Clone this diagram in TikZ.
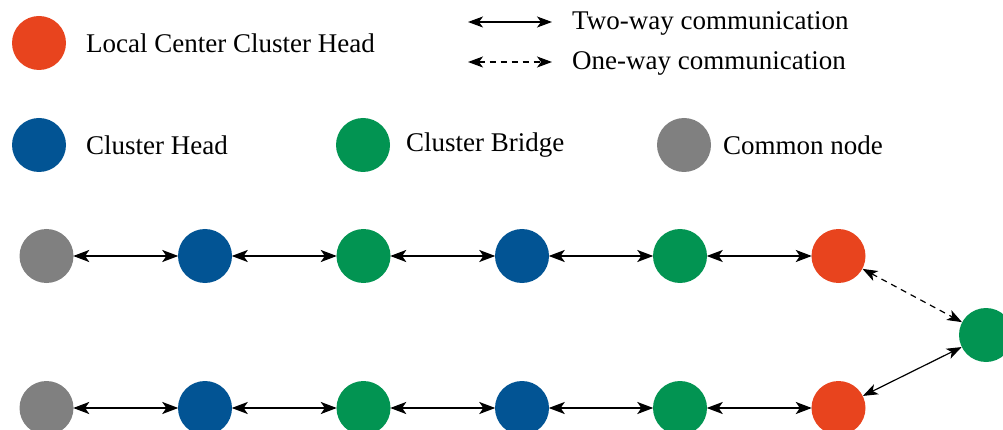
\documentclass[tikz,border=0pt]{standalone}
\usepackage{fontspec}
\IfFontExistsTF{LiberationSerif-Regular.ttf}
  {\setmainfont{LiberationSerif-Regular.ttf}}
  {\setmainfont{Liberation Serif}}
\usetikzlibrary{arrows.meta}

\definecolor{lcch}{RGB}{232,68,30}
\definecolor{chead}{RGB}{2,84,148}
\definecolor{cbridge}{RGB}{2,148,82}
\definecolor{cnode}{RGB}{128,128,128}

\tikzset{
  dot/.style={circle, minimum size=54pt, inner sep=0pt, draw=none},
  lcchdot/.style={dot, fill=lcch},
  cheaddot/.style={dot, fill=chead},
  cbridgedot/.style={dot, fill=cbridge},
  cnodedot/.style={dot, fill=cnode},
  label/.style={anchor=base west, inner sep=0pt, font=\rmfamily\fontsize{27}{32}\selectfont},
  link/.style={{Stealth[length=16pt, width=12pt, inset=4pt]}-{Stealth[length=16pt, width=12pt, inset=4pt]}, line width=1.7pt, shorten <=-0.5pt, shorten >=-0.5pt},
  thinlink/.style={{Stealth[length=15pt, width=11pt, inset=4pt]}-{Stealth[length=15pt, width=11pt, inset=4pt]}, line width=1.2pt},
}

\begin{document}
\begin{tikzpicture}[x=1pt, y=-1pt]
\useasboundingbox (0,0) rectangle (1003,430);

% legend
\node[lcchdot] (lg1) at (39,43) {};
\node[label] (lt1) at (86,53) {Local Center Cluster Head};
\node[cheaddot] (lg2) at (39,145) {};
\node[label] (lt2) at (86,155) {Cluster Head};
\node[cbridgedot] (lg3) at (363,145) {};
\node[label] (lt3) at (406,152) {Cluster Bridge};
\node[cnodedot] (lg4) at (684,145) {};
\node[label] (lt4) at (723,155) {Common node};

\coordinate (aw1) at (468,22);
\coordinate (aw2) at (552,22);
\coordinate (ow1) at (468,62);
\coordinate (ow2) at (552,62);
\draw[thinlink] (aw1) -- (aw2);
\draw[thinlink, dashed, dash pattern=on 6pt off 5pt] (ow1) -- (ow2);
\node[label] (lt5) at (572,30) {Two-way communication};
\node[label] (lt6) at (572,70) {One-way communication};

% upper chain
\node[cnodedot]   (a0) at (46.5,256) {};
\node[cheaddot]   (a1) at (205,256) {};
\node[cbridgedot] (a2) at (363.5,256) {};
\node[cheaddot]   (a3) at (522,256) {};
\node[cbridgedot] (a4) at (680,256) {};
\node[lcchdot]    (a5) at (838.5,256) {};

% lower chain
\node[cnodedot]   (b0) at (46.5,408) {};
\node[cheaddot]   (b1) at (205,408) {};
\node[cbridgedot] (b2) at (363.5,408) {};
\node[cheaddot]   (b3) at (522,408) {};
\node[cbridgedot] (b4) at (680,408) {};
\node[lcchdot]    (b5) at (838.5,408) {};

% joining bridge
\node[cbridgedot] (c) at (986,335) {};

\foreach \i/\j in {0/1,1/2,2/3,3/4,4/5} {
  \draw[link] (a\i) -- (a\j);
  \draw[link] (b\i) -- (b\j);
}
\draw[thinlink, dashed, dash pattern=on 6pt off 5pt] (a5) -- (c);
\draw[thinlink] (b5) -- (c);
\end{tikzpicture}
\end{document}
